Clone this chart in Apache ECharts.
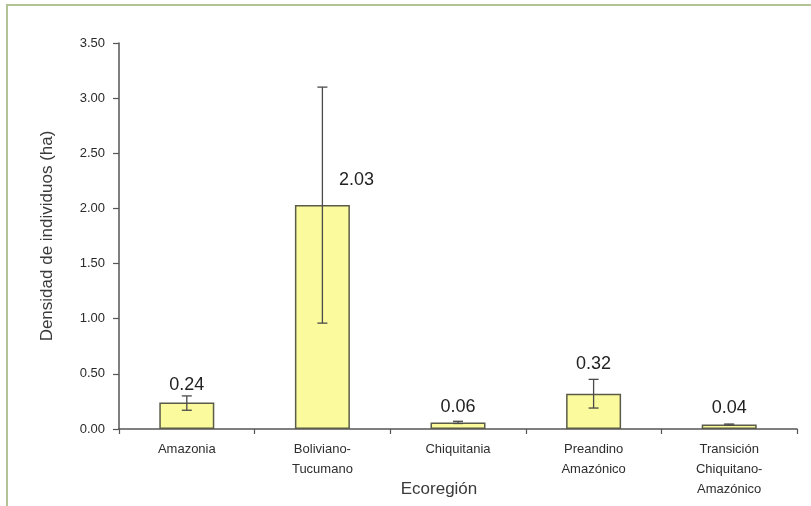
<!DOCTYPE html>
<html>
<head>
<meta charset="utf-8">
<script src="https://cdn.jsdelivr.net/npm/echarts@6/dist/echarts.min.js"></script>
<style>
  html, body { margin: 0; padding: 0; background: #ffffff; }
  #chart { width: 811px; height: 506px; }
</style>
</head>
<body>
<div id="chart"></div>
<script>
// Ecoregions and mean density of individuals per hectare
const categories = ['Amazonia', 'Boliviano-\nTucumano', 'Chiquitania', 'Preandino\nAmazónico', 'Transición\nChiquitano-\nAmazónico'];
const meanValues = [0.24, 2.03, 0.06, 0.32, 0.04];
const errorLow = [0.17, 0.96, 0.05, 0.19, 0.035];
const errorHigh = [0.30, 3.10, 0.07, 0.45, 0.045];
const yTicks = [0, 0.5, 1, 1.5, 2, 2.5, 3, 3.5];

// pixel offsets of each value label from the top of its bar
const labelOffsets = [[0, -18], [34, -25], [0, -15], [0, -30], [0, -17]];

const axisColor = '#555555';
const chart = echarts.init(document.getElementById('chart'));

const errorData = categories.map((c, i) => [i, errorLow[i], errorHigh[i], meanValues[i]]);

chart.setOption({
  backgroundColor: '#ffffff',
  animation: false,
  grid: { left: 119, right: 14, top: 43, bottom: 77, outerBoundsMode: 'none', containLabel: false },
  xAxis: {
    type: 'category',
    data: categories,
    boundaryGap: true,
    name: 'Ecoregión',
    nameLocation: 'middle',
    nameGap: 52,
    nameMoveOverlap: false,
    nameTextStyle: { fontFamily: 'Liberation Sans', fontSize: 17, color: '#3a3a3a', padding: [0, 38, 0, 0] },
    axisLine: { lineStyle: { color: axisColor, width: 1.5 } },
    axisTick: { show: true, alignWithLabel: false, length: 5, lineStyle: { color: axisColor, width: 1.2 } },
    axisLabel: { fontFamily: 'Liberation Sans', fontSize: 13, color: '#2e2e2e', lineHeight: 20, margin: 10, interval: 0 }
  },
  yAxis: {
    type: 'value',
    min: yTicks[0],
    max: yTicks[yTicks.length - 1],
    interval: 0.5,
    name: 'Densidad de individuos (ha)',
    nameLocation: 'middle',
    nameGap: 63,
    nameMoveOverlap: false,
    nameTextStyle: { fontFamily: 'Liberation Sans', fontSize: 17, color: '#3a3a3a' },
    axisLine: { show: true, lineStyle: { color: axisColor, width: 1.5 } },
    axisTick: { show: true, length: 6, lineStyle: { color: axisColor, width: 1.2 } },
    splitLine: { show: false },
    axisLabel: {
      fontFamily: 'Liberation Sans', fontSize: 13, color: '#2a2a2a', margin: 14,
      formatter: v => v.toFixed(2)
    }
  },
  series: [
    {
      type: 'bar',
      data: meanValues,
      barWidth: 55,
      itemStyle: { color: '#fbfa9c', borderColor: '#5b5b4a', borderWidth: 1.5 },
      z: 2
    },
    {
      type: 'custom',
      data: errorData,
      z: 3,
      renderItem: function (params, api) {
        const i = api.value(0);
        const low = api.coord([i, api.value(1)]);
        const high = api.coord([i, api.value(2)]);
        const top = api.coord([i, api.value(3)]);
        const cap = 5;
        const style = { stroke: '#4a4a4a', lineWidth: 1.3 };
        const off = labelOffsets[i];
        return {
          type: 'group',
          children: [
            { type: 'line', shape: { x1: high[0], y1: high[1], x2: low[0], y2: low[1] }, style },
            { type: 'line', shape: { x1: high[0] - cap, y1: high[1], x2: high[0] + cap, y2: high[1] }, style },
            { type: 'line', shape: { x1: low[0] - cap, y1: low[1], x2: low[0] + cap, y2: low[1] }, style },
            {
              type: 'text',
              style: {
                x: top[0] + off[0], y: top[1] + off[1],
                text: meanValues[i].toFixed(2),
                fill: '#222222',
                font: '18px "Liberation Sans"',
                align: 'center', verticalAlign: 'middle'
              }
            }
          ]
        };
      }
    }
  ],
  graphic: [
    { type: 'line', shape: { x1: 6, y1: 5, x2: 811, y2: 5 }, style: { stroke: '#b4c393', lineWidth: 2 } },
    { type: 'line', shape: { x1: 7, y1: 4, x2: 7, y2: 506 }, style: { stroke: '#b4c393', lineWidth: 2 } }
  ]
});
</script>
</body>
</html>
